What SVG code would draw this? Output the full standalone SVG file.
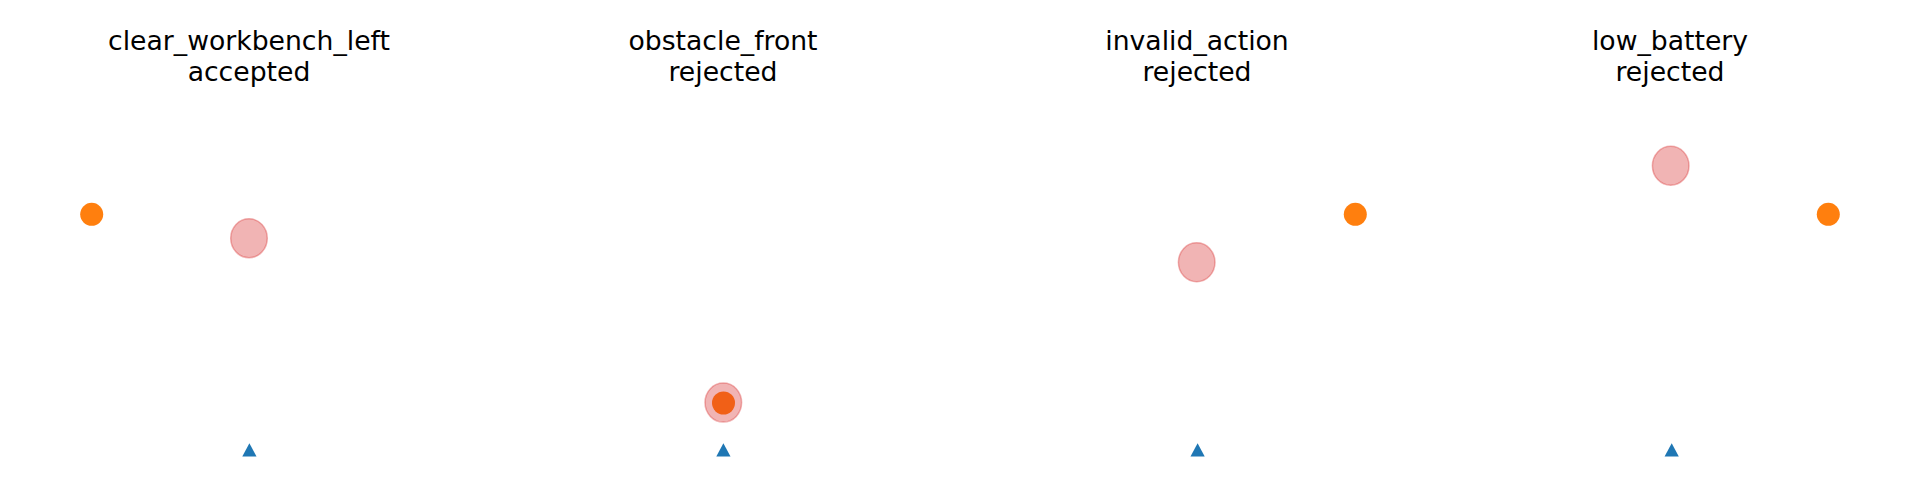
<svg xmlns="http://www.w3.org/2000/svg" width="1920" height="480" viewBox="0 0 1920 480">
  <style>
    .title { font-family: "DejaVu Sans", "Liberation Sans", sans-serif; font-size: 26.67px; fill: #000000; text-anchor: middle; }
    .obj { fill: #ff7f0e; }
    .pred { fill: #d62728; fill-opacity: 0.35; stroke: #d62728; stroke-opacity: 0.35; stroke-width: 1.5; }
    .robot { fill: #1f77b4; }
  </style>
  <rect width="1920" height="480" fill="#ffffff"/>
  <g id="connectors"></g>
  <g id="panel1">
    <text class="title" x="249" y="50">clear_workbench_left</text>
    <text class="title" x="249" y="81">accepted</text>
    <circle class="obj" cx="91.7" cy="214.3" r="11.5"/>
    <ellipse class="pred" cx="249" cy="238.3" rx="18.3" ry="19.5"/>
    <polygon class="robot" points="249.4,443.3 242.3,456.5 256.5,456.5"/>
  </g>
  <g id="panel2">
    <text class="title" x="723" y="50">obstacle_front</text>
    <text class="title" x="723" y="81">rejected</text>
    <circle class="obj" cx="723.5" cy="403" r="11.5"/>
    <ellipse class="pred" cx="723.3" cy="402.6" rx="18.3" ry="19.5"/>
    <polygon class="robot" points="723.4,443.3 716.3,456.5 730.5,456.5"/>
  </g>
  <g id="panel3">
    <text class="title" x="1197" y="50">invalid_action</text>
    <text class="title" x="1197" y="81">rejected</text>
    <circle class="obj" cx="1355.3" cy="214.3" r="11.5"/>
    <ellipse class="pred" cx="1196.7" cy="262.3" rx="18.3" ry="19.5"/>
    <polygon class="robot" points="1197.6,443.3 1190.5,456.5 1204.7,456.5"/>
  </g>
  <g id="panel4">
    <text class="title" x="1670" y="50">low_battery</text>
    <text class="title" x="1670" y="81">rejected</text>
    <circle class="obj" cx="1828.3" cy="214.3" r="11.5"/>
    <ellipse class="pred" cx="1670.7" cy="165.7" rx="18.3" ry="19.5"/>
    <polygon class="robot" points="1671.7,443.3 1664.6,456.5 1678.8,456.5"/>
  </g>
</svg>
